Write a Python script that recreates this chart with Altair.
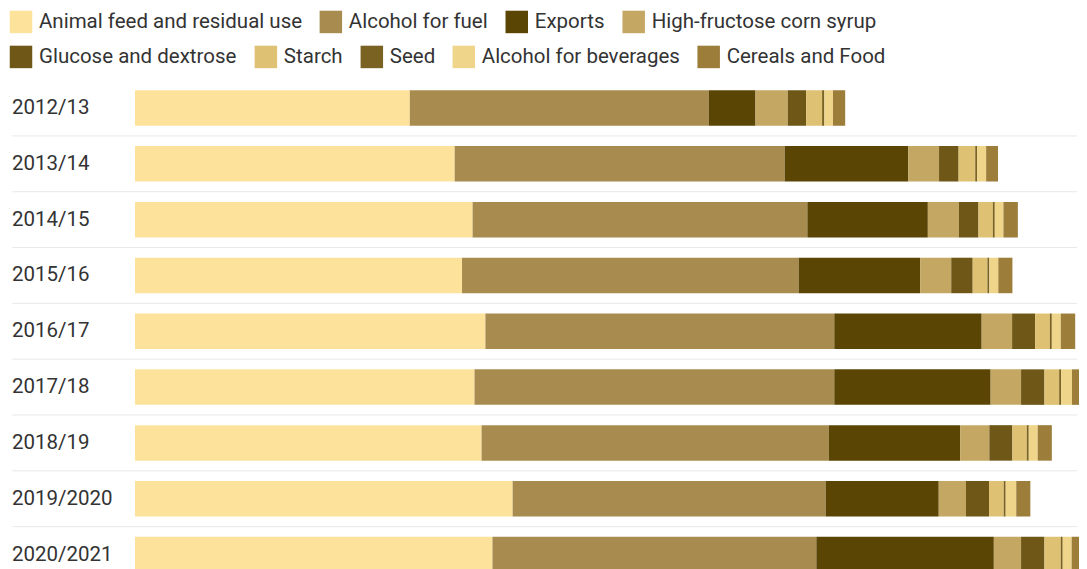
import altair as alt
import pandas as pd

years = ["2012/13", "2013/14", "2014/15", "2015/16", "2016/17",
         "2017/18", "2018/19", "2019/2020", "2020/2021"]

categories = ["Animal feed and residual use", "Alcohol for fuel", "Exports",
              "High-fructose corn syrup", "Glucose and dextrose", "Starch",
              "Seed", "Alcohol for beverages", "Cereals and Food"]

# million bushels
animal_feed = [4290, 4990, 5270, 5105, 5470, 5300, 5410, 5895, 5580]
alcohol_fuel = [4665, 5150, 5225, 5255, 5445, 5615, 5420, 4885, 5055]
exports = [730, 1930, 1880, 1895, 2300, 2440, 2050, 1765, 2770]
hfcs = [505, 480, 485, 485, 475, 475, 455, 425, 425]
glucose = [285, 305, 305, 335, 360, 365, 360, 360, 365]
starch = [250, 260, 225, 230, 230, 230, 225, 230, 255]
seed = [35, 30, 30, 30, 30, 30, 30, 30, 30]
alcohol_bev = [135, 140, 135, 140, 140, 170, 140, 165, 140]
cereals = [190, 185, 225, 220, 225, 185, 220, 220, 225]

series = [animal_feed, alcohol_fuel, exports, hfcs, glucose, starch,
          seed, alcohol_bev, cereals]

colors = ["#FDE29B", "#A88C4F", "#5B4504", "#C4A762", "#6E5717",
          "#DEC172", "#7A6222", "#EED58A", "#9C7D3A"]

rows = []
for ci, (cat, vals) in enumerate(zip(categories, series)):
    for yr, v in zip(years, vals):
        rows.append({"year": yr, "category": cat, "order": ci, "value": v})
df = pd.DataFrame(rows)

W = 944.5
H = 502.6
D = W * 15.6
P_IN = 0.364
STEP = H / len(years)
FS = 20.5

ysc = alt.Scale(paddingInner=P_IN, paddingOuter=P_IN / 2)
yaxis = alt.Axis(labelAlign="left", labelPadding=123.5, ticks=False, tickSize=0,
                 domain=False, grid=False, labelFont="Roboto", labelFontSize=FS,
                 labelColor="#333333", labelBaseline="middle")
xsc = alt.Scale(domain=[0, D], nice=False, zero=True)


def make_legend(x, y, n):
    return alt.Legend(orient="none", legendX=x, legendY=y, direction="horizontal",
                      columns=n, symbolType="square", symbolSize=506,
                      symbolStrokeWidth=0, labelFont="Roboto", labelFontSize=FS,
                      labelColor="#333333", labelOffset=6.5, columnPadding=17,
                      labelLimit=500, padding=0)


base = alt.Chart(df).transform_stack(
    stack="value", groupby=["year"], as_=["x0", "x1"],
    sort=[alt.SortField("order", order="ascending")]
)

bars_a = base.transform_filter(alt.datum.order < 4).mark_bar(clip=True).encode(
    y=alt.Y("year:N", sort=years, title=None, scale=ysc, axis=yaxis),
    x=alt.X("x0:Q", scale=xsc, axis=None),
    x2="x1:Q",
    color=alt.Color("category:N", title=None,
                    scale=alt.Scale(domain=categories[:4], range=colors[:4]),
                    legend=make_legend(-125.5, -69.8, 4)),
)

bars_b = base.transform_filter(alt.datum.order >= 4).mark_bar(clip=True).encode(
    y=alt.Y("year:N", sort=years, title=None, scale=ysc, axis=yaxis),
    x=alt.X("x0:Q", scale=xsc, axis=None),
    x2="x1:Q",
    color=alt.Color("category:N", title=None,
                    scale=alt.Scale(domain=categories[4:], range=colors[4:]),
                    legend=make_legend(-125.5, -34.8, 5)),
)

sep = alt.Chart(pd.DataFrame({"year": years[1:]})).mark_rule(
    color="#e8e8e8", strokeWidth=1, yOffset=-(P_IN * STEP) / 2
).encode(
    y=alt.Y("year:N", sort=years, title=None, scale=ysc, axis=yaxis, bandPosition=0),
    x=alt.value(-122.5),
    x2=alt.value(W - 2),
)

chart = alt.layer(sep, bars_a, bars_b).resolve_scale(color="independent").properties(
    width=W, height=H,
    padding={"left": 1, "top": 2, "right": 0, "bottom": 0},
).configure(font="Roboto").configure_view(strokeWidth=0)

chart.save("out.html", embed_options={"renderer": "svg", "actions": False})
